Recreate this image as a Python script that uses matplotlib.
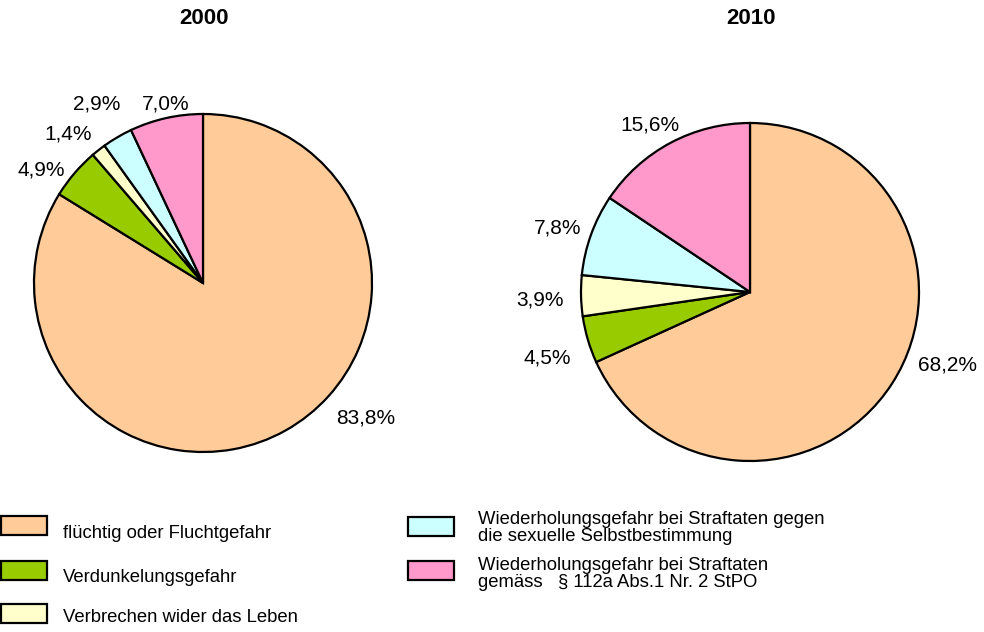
import matplotlib.pyplot as plt
from matplotlib.patches import Rectangle

plt.rcParams['font.family'] = ['Liberation Sans', 'DejaVu Sans']

categories = [
    "flüchtig oder Fluchtgefahr",
    "Verdunkelungsgefahr",
    "Verbrechen wider das Leben",
    "Wiederholungsgefahr bei Straftaten gegen\ndie sexuelle Selbstbestimmung",
    "Wiederholungsgefahr bei Straftaten\ngemäss   § 112a Abs.1 Nr. 2 StPO",
]
colors = ["#FFCC99", "#99CC00", "#FFFFCC", "#CCFFFF", "#FF99CC"]

years = ["2000", "2010"]
shares_2000 = [83.8, 4.9, 1.4, 2.9, 7.0]
shares_2010 = [68.2, 4.5, 3.9, 7.8, 15.6]

# label positions relative to the pie centre, in units of the radius
label_pos_2000 = [(0.96, -0.80), (-0.96, 0.67), (-0.80, 0.88), (-0.63, 1.06), (-0.22, 1.06)]
label_pos_2010 = [(1.17, -0.43), (-1.20, -0.39), (-1.24, -0.05), (-1.14, 0.38), (-0.59, 0.99)]

W, H = 984, 632
fig = plt.figure(figsize=(W / 100, H / 100), dpi=100)

R = 169  # pie radius in px


def pie_axes(cx, cy):
    # cx, cy in pixels measured from the top-left corner
    ax = fig.add_axes([(cx - R) / W, (H - cy - R) / H, 2 * R / W, 2 * R / H])
    ax.set_xlim(-1, 1)
    ax.set_ylim(-1, 1)
    ax.set_aspect('equal')
    ax.axis('off')
    return ax


for year, shares, pos, (cx, cy) in [
    (years[0], shares_2000, label_pos_2000, (203, 283)),
    (years[1], shares_2010, label_pos_2010, (750, 292)),
]:
    ax = pie_axes(cx, cy)
    ax.pie(shares, colors=colors, startangle=90, counterclock=False, radius=1,
           wedgeprops=dict(edgecolor='black', linewidth=1.6))
    ax.set_xlim(-1, 1)
    ax.set_ylim(-1, 1)
    for v, (x, y) in zip(shares, pos):
        ax.text(x, y, f"{v:.1f}%".replace('.', ','), ha='center', va='center',
                fontsize=15, clip_on=False)
    fig.text(cx / W + 0.001, 1 - 18.5 / H, year, ha='center', va='center',
             fontsize=16, fontweight='bold')

# legend drawn in pixel coordinates
lg = fig.add_axes([0, 0, 1, 1], zorder=-1)
lg.set_xlim(0, W)
lg.set_ylim(H, 0)
lg.axis('off')

legend_slots = [(1, 516, 63, 533), (1, 561, 63, 577), (1, 604, 63, 618),
                (408, 517, 478, 528), (408, 561, 478, 574)]
for name, col, (bx, by, tx, ty) in zip(categories, colors, legend_slots):
    lg.add_patch(Rectangle((bx, by), 46, 19, facecolor=col, edgecolor='black',
                           linewidth=1.6))
    lg.text(tx, ty, name, ha='left', va='center', fontsize=13.3, linespacing=0.98)

fig.savefig("out.png", dpi=100)
